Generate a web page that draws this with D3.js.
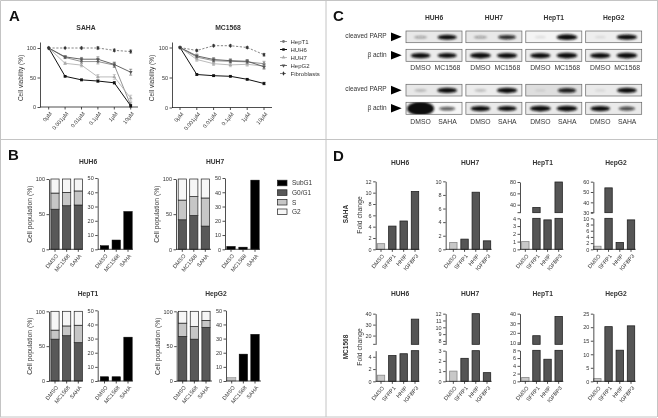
<!DOCTYPE html>
<html><head><meta charset="utf-8">
<script src="https://cdn.jsdelivr.net/npm/d3@7/dist/d3.min.js"></script>
<style>
html,body{margin:0;padding:0;background:#fff}
svg{display:block;font-family:"Liberation Sans",Arial,sans-serif;filter:blur(0.4px)}
text{fill:#333}
</style></head><body><svg id="c" width="658" height="418"></svg>
<script>
// ---------- data ----------
const doses = ["0µM","0.001µM","0.01µM","0.1µM","1µM","10µM"];
const lineNames = ["HepT1","HUH6","HUH7","HepG2","Fibroblasts"];
const sahaHepT1 = [100,84,77,77,71,3];
const sahaHUH6  = [100,52,46,44,41,2];
const sahaHUH7  = [100,74,71,51,51,15];
const sahaHepG2 = [100,85,81,81,72,59];
const sahaFibro = [100,100,100,100,96,94];
const mcHepT1 = [100,84,78,77,76,73];
const mcHUH6  = [100,55,53,52,47,40];
const mcHUH7  = [100,80,73,71,72,69];
const mcHepG2 = [100,86,80,78,77,68];
const mcFibro = [100,95,103,103,100,88];
const sahaErr = [0,2,3,4,4,5];
const mcErr = [0,3,3,3,3,4];

const stackGroups = ["DMSO","MC1568","SAHA"];
const stackKeys = ["G0/G1","S","G2"];
const legendKeys = ["SubG1","G0/G1","S","G2"];
const huh6G0 = [57,62,63],  huh6S = [23,19,20],  huh6G2 = [20,19,17],  huh6Sub = [2.5,6.5,26.5];
const huh7G0 = [42,48,33],  huh7S = [28,27,40],  huh7G2 = [30,25,27],  huh7Sub = [2,1.5,48.5];
const hept1G0 = [60,65,55], hept1S = [13,14,25], hept1G2 = [27,21,20], hept1Sub = [3,3,31];
const hepg2G0 = [64,60,77], hepg2S = [19,18,10], hepg2G2 = [17,22,13], hepg2Sub = [2.5,19,33];

const blotLines = ["HUH6","HUH7","HepT1","HepG2"];
const parpMC   = [.28,.8, .3,.7, .06,.95, .05,.9];
const actinMC  = [.85,.8, .95,.9, .9,.95, .9,.95];
const parpSA   = [.2,.85, .18,.9, .04,.75, .04,.85];
const actinSA  = [1.5,.55, .85,.8, .95,.95, .85,.6];

const genes = ["DMSO","SFRP1","HHIP","IGFBP3"];
const sahaFold = [[1,4.1,5,10.2],[1,1.5,8.4,1.25],[1,35,3.8,80],[1,54,2.2,9.5]];
const mcFold = [[1,4.2,4.5,35],[1,2.25,12,0.85],[1,17,5.7,37],[1,20.2,11.5,20.5]];
const lowTicksS = [[0,2,4,6,8,10,12],[0,2,4,6,8,10],[0,1,2,3,4],[0,2,4,6,8,10]];
const upTicksS = [null,null,[40,60,80],[30,40,50,60]];
const lowTicksM = [[0,2,4],[0,1,2,3],[0,2,4,6,8],[0,5,10,15,20,25]];
const upTicksM = [[20,30,40],[8,9,10,11,12],[10,20,30,40],null];

// ---------- helpers ----------
const svg = d3.select("#c");
const ink="#222";
function txt(x,y,s,o={}){ const t=svg.append("text").attr("x",x).attr("y",y).text(s)
  .attr("font-size",o.size||6).attr("text-anchor",o.anchor||"middle");
  if(o.bold)t.attr("font-weight","bold");
  if(o.rot!=null)t.attr("transform",`rotate(${o.rot} ${x} ${y})`);
  return t;}
function rules(g){ g.selectAll("path,line").attr("stroke",ink).attr("stroke-width",.8);
  g.selectAll("text").attr("fill","#333"); g.attr("font-family",null); }
function yAxis(x,scale,ticks,size=5.5,fmtFn){ const g=svg.append("g").attr("transform",`translate(${x},0)`)
  .call(d3.axisLeft(scale).tickValues(ticks).tickSize(2.5).tickPadding(1.5).tickSizeOuter(0).tickFormat(fmtFn||d3.format("d")));
  g.attr("font-size",size); rules(g); return g;}
function xAxis(y,x0,x1,scale,size=5.5){
  const g=svg.append("g").attr("transform",`translate(0,${y})`);
  g.append("line").attr("x1",x0).attr("x2",x1).attr("stroke",ink).attr("stroke-width",.8);
  scale.domain().forEach(d=>{
    g.append("line").attr("x1",scale(d)).attr("x2",scale(d)).attr("y1",0).attr("y2",2.5).attr("stroke",ink).attr("stroke-width",.8);
    g.append("text").attr("x",scale(d)+1.5).attr("y",5).attr("font-size",size).attr("text-anchor","end")
      .attr("dy","0.5em").attr("transform",`rotate(-50 ${scale(d)+1.5} 5)`).text(d);
  });
}
// panel frame
svg.append("g").attr("stroke","#c4c4c4").attr("stroke-width",1).selectAll("line")
 .data([[0.5,0.5,657.5,0.5],[0.5,0.5,0.5,417],[326,0,326,417],[657.5,0,657.5,417],[0,139.5,657,139.5],[0,417,657,417]])
 .join("line").attr("x1",d=>d[0]).attr("y1",d=>d[1]).attr("x2",d=>d[2]).attr("y2",d=>d[3]);
[["A",9,21],["B",8,160],["C",333,21],["D",333,160.7]].forEach(d=>txt(d[1],d[2],d[0],{anchor:"start",size:15,bold:true}).style("fill","#111"));

// ---------- Panel A ----------
const symTri=d3.symbolTriangle, symSq=d3.symbolSquare, symCir=d3.symbolCircle, symDia=d3.symbolDiamond;
const lineStyles={HepT1:{c:"#777",s:symCir,w:.8},HUH6:{c:"#111",s:symSq,w:1},HUH7:{c:"#aaa",s:symTri,w:.8},HepG2:{c:"#555",s:symTri,rot:180,w:.9},Fibroblasts:{c:"#333",s:symDia,w:.6,dash:"2.2,1.6"}};
function lineChart(ax,x1,xr0,xr1,y0,y100,topY,title,tx,series,err){
  const X=d3.scalePoint().domain(doses).range([xr0,xr1]);
  const Y=d3.scaleLinear().domain([0,100]).range([y0,y100]);
  yAxis(ax,d3.scaleLinear().domain([0,(y0-topY)/(y0-y100)*100]).range([y0,topY]),[0,50,100]);
  xAxis(y0,ax,x1,X);
  txt(tx,30,title,{bold:true,size:6.8});
  const ln=d3.line().x((d,i)=>X(doses[i])).y(d=>Y(d));
  lineNames.forEach((n,k)=>{ const st=lineStyles[n], v=series[k];
    svg.append("path").attr("d",ln(v)).attr("fill","none").attr("stroke",st.c).attr("stroke-width",st.w).attr("stroke-dasharray",st.dash||null);
    v.forEach((d,i)=>{ const e=err[i]*(k===1?.5:1)*(k===4?.5:1);
      if(e>0) svg.append("path").attr("d",`M${X(doses[i])-1.5},${Y(d+e)}h3M${X(doses[i])},${Y(d+e)}V${Y(Math.max(0,d-e))}M${X(doses[i])-1.5},${Y(Math.max(0,d-e))}h3`).attr("stroke",st.c).attr("stroke-width",.6).attr("fill","none");
      svg.append("path").attr("transform",`translate(${X(doses[i])},${Y(d)}) rotate(${st.rot||0})`).attr("d",d3.symbol(st.s,k===1?7:6)()).attr("fill",st.c);
    });
  });
}
lineChart(40,138,48.7,130.7,107,48,42,"SAHA",86,[sahaHepT1,sahaHUH6,sahaHUH7,sahaHepG2,sahaFibro],sahaErr);
lineChart(172,272,180,264,107.5,47.5,42,"MC1568",228,[mcHepT1,mcHUH6,mcHUH7,mcHepG2,mcFibro],mcErr);
txt(23,78,"Cell viability (%)",{rot:-90,size:6.5});
txt(154,78,"Cell viability (%)",{rot:-90,size:6.5});
lineNames.forEach((n,i)=>{ const st=lineStyles[n], y=41.5+i*8;
  svg.append("path").attr("d",`M280,${y}H287`).attr("stroke",st.c).attr("stroke-width",st.w).attr("stroke-dasharray",st.dash||null);
  svg.append("path").attr("transform",`translate(283.5,${y}) rotate(${st.rot||0})`).attr("d",d3.symbol(st.s,6)()).attr("fill",st.c);
  txt(290.5,y+2,n,{anchor:"start",size:6});
});

// ---------- Panel B ----------
const stackFill={"G0/G1":"#585858","S":"#c6c6c6","G2":"#f6f6f6","SubG1":"#000"};
function bGroup(ax1,ax2,c1,c2,end1,end2,y0,y1,title,tx,ty,g0,s,g2,sub){
  const Y=d3.scaleLinear().domain([0,100]).range([y0,y1]);
  const X=d3.scalePoint().domain(stackGroups).range(c1);
  const rowsB=stackGroups.map((g,i)=>({"G0/G1":g0[i],"S":s[i],"G2":g2[i],g}));
  const stacked=d3.stack().keys(stackKeys)(rowsB);
  stacked.forEach(layer=>{
    svg.append("g").selectAll("rect").data(layer).join("rect")
     .attr("x",d=>X(d.data.g)-4.1).attr("width",8.2)
     .attr("y",d=>Y(d[1])).attr("height",d=>Y(d[0])-Y(d[1]))
     .attr("fill",stackFill[layer.key]).attr("stroke",ink).attr("stroke-width",.7);
  });
  yAxis(ax1,Y,[0,50,100]); xAxis(y0,ax1,end1,X);
  const Y2=d3.scaleLinear().domain([0,50]).range([y0,y1-1]);
  const X2=d3.scalePoint().domain(stackGroups).range(c2);
  svg.append("g").selectAll("rect").data(sub).join("rect")
   .attr("x",(d,i)=>X2(stackGroups[i])-4.2).attr("width",8.4)
   .attr("y",d=>Y2(d)).attr("height",d=>y0-Y2(d))
   .attr("fill",(d,i)=>(title==="HepG2"&&i===0)?"#c0c0c0":"#000").attr("stroke",(d,i)=>(title==="HepG2"&&i===0)?"#888":"#000").attr("stroke-width",.5);
  yAxis(ax2,Y2,[0,10,20,30,40,50]); xAxis(y0,ax2,end2,X2);
  txt(tx,ty,title,{bold:true,size:6.7});
  txt(ax1-17,(y0+y1)/2,"Cell population (%)",{rot:-90,size:6.8});
}
bGroup(49,97.7,[55,78.3],[104.5,128],83,133,249.3,179,"HUH6",88,164,huh6G0,huh6S,huh6G2,huh6Sub);
bGroup(176,225,[182.3,205.3],[231,255],211,260,249.3,179,"HUH7",215,164,huh7G0,huh7S,huh7G2,huh7Sub);
bGroup(49,97.7,[55,78.3],[104.5,128],83,133,381,311.3,"HepT1",88,296,hept1G0,hept1S,hept1G2,hept1Sub);
bGroup(176.7,226,[182.7,206],[231.7,255],212,261,381,311.3,"HepG2",216,296,hepg2G0,hepg2S,hepg2G2,hepg2Sub);
legendKeys.forEach((k,i)=>{ const y=183+i*9.6;
  svg.append("rect").attr("x",277.5).attr("y",y-2.8).attr("width",9.5).attr("height",5.6).attr("fill",stackFill[k]).attr("stroke",ink).attr("stroke-width",.7);
  txt(292,y+2.3,k,{anchor:"start",size:6.5});
});

// ---------- Panel C ----------
const defs=svg.append("defs");
defs.append("filter").attr("id","bl").attr("x","-50%").attr("y","-100%").attr("width","200%").attr("height","300%").append("feGaussianBlur").attr("stdDeviation",.9);
const blotX=d3.scaleBand().domain(blotLines).range([406,641.7]).paddingInner(0.065).paddingOuter(0);
const rx=d3.scaleLinear().domain([0,1,1.5]).range([5,10.8,13.5]);
const ry=d3.scaleLinear().domain([0,1,1.5]).range([.8,2.9,7]);
const op=d3.scaleLinear().domain([0,.3,.8]).range([.08,.35,1]).clamp(true);
function blotRow(y,h,vals,bg){
  const w=blotX.bandwidth();
  blotLines.forEach((l,k)=>{
    const g=svg.append("g");
    const clip="cl"+Math.round(y)+k;
    defs.append("clipPath").attr("id",clip).append("rect").attr("x",blotX(l)).attr("y",y).attr("width",w).attr("height",h);
    g.append("rect").attr("x",blotX(l)).attr("y",y).attr("width",w).attr("height",h).attr("fill",bg[k]).attr("stroke","#666").attr("stroke-width",.7);
    const bands=g.append("g").attr("clip-path",`url(#${clip})`).append("g").attr("filter","url(#bl)");
    [0,1].forEach(j=>{ const v=vals[k*2+j];
      bands.append("ellipse").attr("cx",blotX(l)+w*(j?.735:.26)).attr("cy",y+h/2+.3)
       .attr("rx",rx(v)).attr("ry",ry(v)).attr("fill","#111").attr("opacity",op(v));
    });
  });
}
blotLines.forEach((l,k)=>txt(blotX(l)+blotX.bandwidth()/2,20,l,{bold:true,size:6.7}));
const bg1=["#e8e8e8","#e8e8e8","#f4f4f4","#eeeeee"], bg2=["#ececec","#ececec","#ececec","#ececec"];
const bg3=["#e8e8e8","#ececec","#dedede","#eaeaea"], bg4=["#f6f6f6","#eaeaea","#eaeaea","#eaeaea"];
const blotRows=[[31,11.7,parpMC,bg1,"cleaved PARP"],[49.3,12,actinMC,bg2,"β actin"],[84.3,11.7,parpSA,bg3,"cleaved PARP"],[102.3,12,actinSA,bg4,"β actin"]];
blotRows.forEach(r=>{ blotRow(r[0],r[1],r[2],r[3]);
  const cy=r[0]+r[1]/2;
  txt(386.7,cy+1.3,r[4],{anchor:"end",size:6.5});
  svg.append("path").attr("d",d3.line()([[391,cy-4.3],[401.7,cy],[391,cy+4.3]])+"Z").attr("fill","#000");
});
blotLines.forEach(l=>{ const w=blotX.bandwidth();
  [[70,"MC1568"],[124,"SAHA"]].forEach(([y,t])=>{
    txt(blotX(l)+w*.26,y,"DMSO",{size:6.8}); txt(blotX(l)+w*.74,y,t,{size:6.8});
  });
});

// ---------- Panel D ----------
function foldChart(ax,y0,topY,centers,end,vals,low,up,cfg,title,tx,ty){
  const X=d3.scalePoint().domain(genes).range(centers);
  const Lo=d3.scaleLinear().domain(cfg.lowD).range([y0,cfg.lowTop]);
  const Up=cfg.upD?d3.scaleLinear().domain(cfg.upD).range([cfg.upBase,topY]):null;
  const bar=(x,a,b,i)=>svg.append("rect").attr("x",x-3.7).attr("width",7.4).attr("y",a).attr("height",Math.max(0,b-a))
     .attr("fill",i?"#555":"#c8c8c8").attr("stroke",i?"#222":"#888").attr("stroke-width",.8);
  vals.forEach((v,i)=>{ const x=X(genes[i]);
    if(Up && v>cfg.lowD[1]){ bar(x,cfg.lowTop,y0,i); bar(x,Up(v),cfg.upBase,i); }
    else bar(x,Lo(Math.min(v,cfg.lowD[1])),y0,i);
  });
  yAxis(ax,Lo,low);
  if(Up){ const g=yAxis(ax,Up,up.filter(t=>t>=cfg.upD[0]));
    svg.append("line").attr("x1",ax-2.5).attr("x2",ax).attr("y1",cfg.upBase).attr("y2",cfg.upBase).attr("stroke",ink).attr("stroke-width",.8);
  }
  xAxis(y0,ax,end,X);
  txt(tx,ty,title,{bold:true,size:6.7});
}
const z=v=>330+v/3, zy1=v=>140+v/3, zy2=v=>280+v/3;
const cols=[[137,[153,255],268],[347,[370,471],485],[570,[586,686],700],[790,[802,903],917]];
const titleX=[400,470,542.7,616];
const cfgS=[
 {lowD:[0,12],lowTop:zy1(124)},
 {lowD:[0,10],lowTop:zy1(124)},
 {lowD:[0,4],lowTop:zy1(235),upD:[26,80],upBase:zy1(218)},
 {lowD:[0,10],lowTop:zy1(235),upD:[30,60],upBase:zy1(218)}];
const topS=[zy1(124),zy1(124),zy1(126),zy1(125)];
blotLines.forEach((l,i)=>{ const c=cols[i];
  foldChart(z(c[0]),zy1(328),topS[i],[z(c[1][0]),z(c[1][1])],z(c[2]),sahaFold[i],lowTicksS[i],upTicksS[i],cfgS[i],l,titleX[i],164.5);
});
const cfgM=[
 {lowD:[0,5],lowTop:zy2(212),upD:[12,40],upBase:zy2(193)},
 {lowD:[0,3],lowTop:zy2(212),upD:[7.5,12],upBase:zy2(193)},
 {lowD:[0,8],lowTop:zy2(211),upD:[8,40],upBase:zy2(193)},
 {lowD:[0,25],lowTop:zy2(101)}];
blotLines.forEach((l,i)=>{ const c=cols[i];
  foldChart(z(c[0]),zy2(304),zy2(101),[z(c[1][0]),z(c[1][1])],z(c[2]),mcFold[i],lowTicksM[i],upTicksM[i],cfgM[i],l,titleX[i],296);
});
txt(362.3,215,"Fold change",{rot:-90,size:6.8});
txt(347.5,214,"SAHA",{rot:-90,size:6.5,bold:true});
txt(362.3,347,"Fold change",{rot:-90,size:6.8});
txt(347.5,347,"MC1568",{rot:-90,size:6.5,bold:true});
</script></body></html>
